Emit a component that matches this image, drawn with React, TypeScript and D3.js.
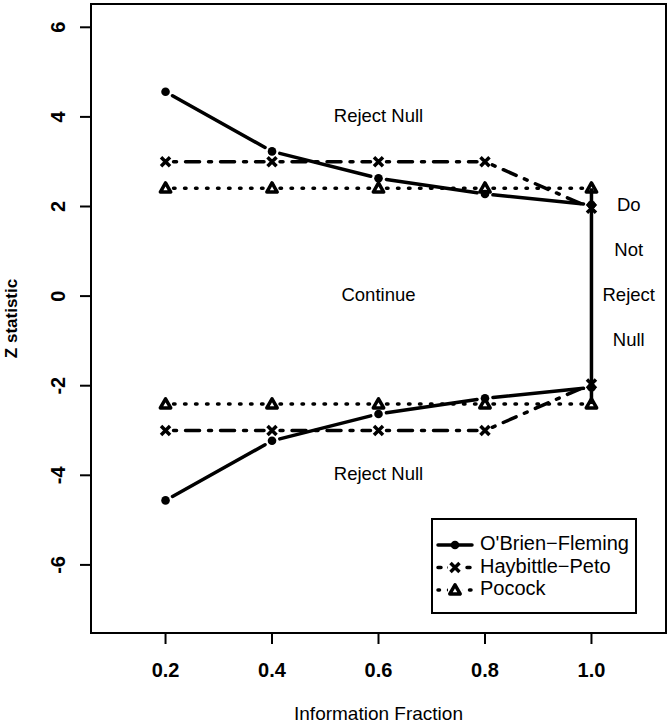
import * as d3 from 'd3';

// information fraction at each look
const fractions = [0.2, 0.4, 0.6, 0.8, 1.0];
// upper critical values, lower ones are the mirror image
const obrienFleming = [4.56, 3.23, 2.63, 2.28, 2.04];
const haybittlePeto = [3, 3, 3, 3, 1.96];
const pocock = [2.41, 2.41, 2.41, 2.41, 2.41];

const xTicks = [0.2, 0.4, 0.6, 0.8, 1.0];
const yTicks = [-6, -4, -2, 0, 2, 4, 6];

const regionLabels = [
  { x: 0.6, y: 4, text: 'Reject Null' },
  { x: 0.6, y: 0, text: 'Continue' },
  { x: 0.6, y: -4, text: 'Reject Null' },
  { x: 1.07, y: 2, text: 'Do' },
  { x: 1.07, y: 1, text: 'Not' },
  { x: 1.07, y: 0, text: 'Reject' },
  { x: 1.07, y: -1, text: 'Null' },
];

const W = 671;
const H = 726;
const FONT = '"Liberation Sans", Arial, sans-serif';

const x = d3.scaleLinear().domain([0.06, 1.14]).range([91, 666]);
const y = d3.scaleLinear().domain([-7.52, 6.52]).range([633, 4]);

type Pt = [number, number];

// R style type="b": segments with a gap round each point
function gappedSegments(pts: Pt[], gap: number) {
  const out: string[] = [];
  for (let i = 0; i < pts.length - 1; i++) {
    const [x1, y1] = pts[i];
    const [x2, y2] = pts[i + 1];
    const len = Math.hypot(x2 - x1, y2 - y1);
    if (len <= 2 * gap) continue;
    const ux = (x2 - x1) / len;
    const uy = (y2 - y1) / len;
    out.push(
      `M${x1 + ux * gap},${y1 + uy * gap}L${x2 - ux * gap},${y2 - uy * gap}`
    );
  }
  return out.join('');
}

function Marker({ kind, cx, cy }: { kind: string; cx: number; cy: number }) {
  if (kind === 'circle') return <circle cx={cx} cy={cy} r={4.3} fill="#000" />;
  if (kind === 'cross') {
    const s = 4.5;
    return (
      <path
        d={`M${cx - s},${cy - s}L${cx + s},${cy + s}M${cx - s},${cy + s}L${cx + s},${cy - s}`}
        stroke="#000"
        strokeWidth={3.5}
      />
    );
  }
  const s = 5.2;
  return (
    <path
      d={`M${cx},${cy - s}L${cx + s},${cy + s * 0.75}L${cx - s},${cy + s * 0.75}Z`}
      fill="none"
      stroke="#000"
      strokeWidth={3.5}
      strokeLinejoin="round"
    />
  );
}

const series = [
  { name: "O'Brien\u2212Fleming", values: obrienFleming, dash: 'none', legendDash: 'none', marker: 'circle' },
  { name: 'Haybittle\u2212Peto', values: haybittlePeto, dash: '3 9 14 9', legendDash: '3 8 10 8', marker: 'cross' },
  { name: 'Pocock', values: pocock, dash: '1.5 9.5', legendDash: '1.5 9', marker: 'triangle' },
];

export default function App() {
  const [x0, x1] = x.range();
  const [y0, y1] = y.range();

  return (
    <svg
      width={W}
      height={H}
      style={{ position: 'absolute', left: 0, top: 0, background: '#fff' }}
      fontFamily={FONT}
    >
      <rect width={W} height={H} fill="#fff" />

      {/* data */}
      {series.map((s) =>
        [1, -1].map((sign) => {
          const pts: Pt[] = fractions.map((f, i) => [x(f), y(sign * s.values[i])]);
          return (
            <g key={s.name + sign}>
              <path
                d={gappedSegments(pts, 8)}
                fill="none"
                stroke="#000"
                strokeWidth={3.5}
                strokeDasharray={s.dash}
                strokeLinecap="round"
              />
              {pts.map((p, i) => (
                <Marker key={i} kind={s.marker} cx={p[0]} cy={p[1]} />
              ))}
            </g>
          );
        })
      )}

      {/* final analysis: do not reject between the Pocock bounds */}
      <line
        x1={x(1.0)}
        x2={x(1.0)}
        y1={y(-pocock[4])}
        y2={y(pocock[4])}
        stroke="#000"
        strokeWidth={3.5}
      />

      {/* region labels */}
      {regionLabels.map((l, i) => (
        <text
          key={i}
          x={x(l.x)}
          y={y(l.y)}
          textAnchor="middle"
          dominantBaseline="middle"
          fontSize={18.5}
        >
          {l.text}
        </text>
      ))}

      {/* plot box */}
      <rect
        x={x0}
        y={y1}
        width={x1 - x0}
        height={y0 - y1}
        fill="none"
        stroke="#000"
        strokeWidth={2}
      />

      {/* x axis */}
      {xTicks.map((t) => (
        <g key={t}>
          <line x1={x(t)} x2={x(t)} y1={y0} y2={y0 + 11} stroke="#000" strokeWidth={2} />
          <text
            x={x(t)}
            y={677}
            textAnchor="middle"
            fontSize={20}
            fontWeight="bold"
          >
            {d3.format('.1f')(t)}
          </text>
        </g>
      ))}
      <text x={(x0 + x1) / 2} y={720} textAnchor="middle" fontSize={19}>
        Information Fraction
      </text>

      {/* y axis */}
      {yTicks.map((t) => (
        <g key={t}>
          <line x1={x0 - 11} x2={x0} y1={y(t)} y2={y(t)} stroke="#000" strokeWidth={2} />
          <text
            transform={`translate(65,${y(t)}) rotate(-90)`}
            textAnchor="middle"
            fontSize={20}
            fontWeight="bold"
          >
            {t}
          </text>
        </g>
      ))}
      <text
        transform={`translate(17,${(y0 + y1) / 2}) rotate(-90)`}
        textAnchor="middle"
        fontSize={17}
        fontWeight="bold"
      >
        Z statistic
      </text>

      {/* legend */}
      <g>
        <rect x={432} y={519} width={204} height={94} fill="#fff" stroke="#000" strokeWidth={2} />
        {series.map((s, i) => {
          const cy = 545 + i * 22.5;
          return (
            <g key={s.name}>
              <line
                x1={438}
                x2={472}
                y1={cy}
                y2={cy}
                stroke="#000"
                strokeWidth={3.5}
                strokeDasharray={s.legendDash === 'none' ? undefined : s.legendDash}
                strokeLinecap="round"
              />
              {s.legendDash !== 'none' && (
                <rect x={448} y={cy - 7} width={14} height={14} fill="#fff" />
              )}
              <Marker kind={s.marker} cx={455} cy={cy} />
              <text x={480} y={cy} dominantBaseline="middle" fontSize={20}>
                {s.name}
              </text>
            </g>
          );
        })}
      </g>
    </svg>
  );
}
